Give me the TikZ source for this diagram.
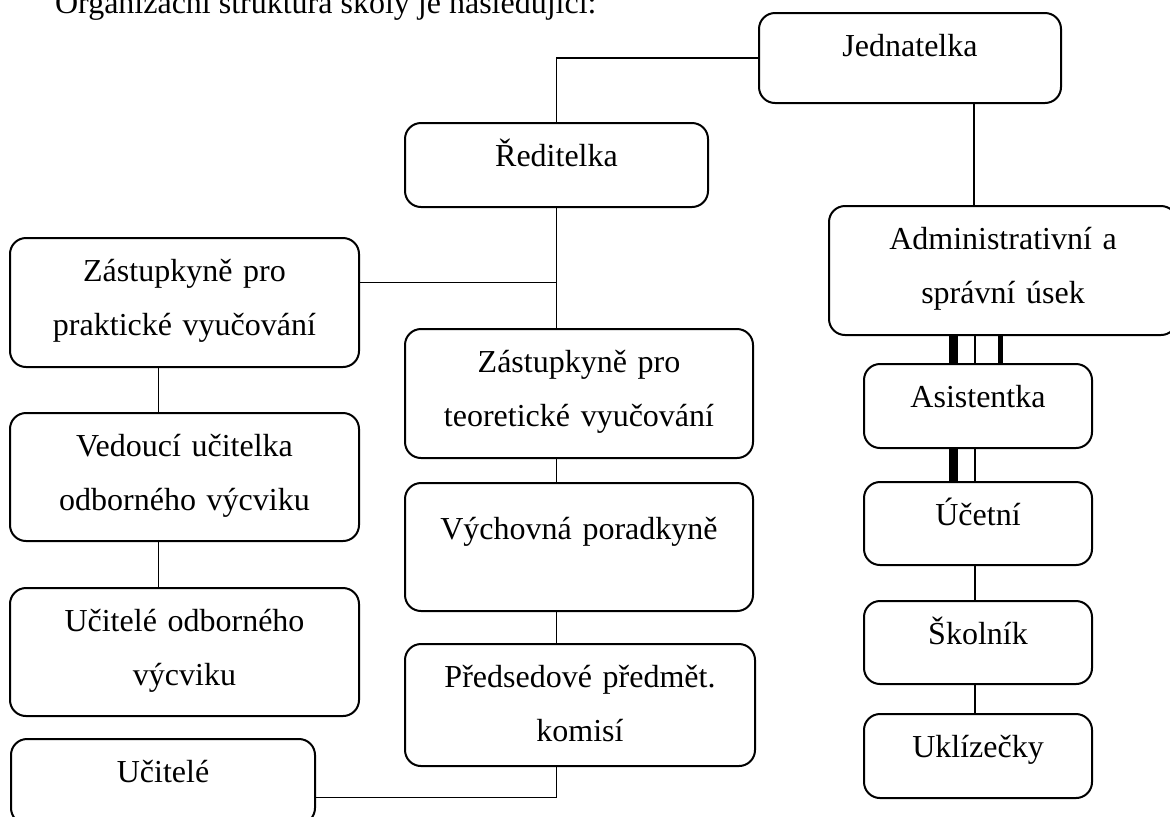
\documentclass[tikz,border=0pt]{standalone}
\usepackage{fontspec}
\setmainfont{Liberation Serif}

\begin{document}
\begin{tikzpicture}
		[x=0.5pt,y=-0.5pt,
		 font=\fontsize{16}{27}\selectfont,
		 b/.style= {draw,line width=1pt,rounded corners=8pt,inner sep=0pt,align=center,anchor=north west,text height=21.5pt},
		 l/.style= {line width=0.9pt}]

		\useasboundingbox (0,0) rectangle (1170,816);

		\node[anchor=base west] (t) at (48,13) {Organizační struktura školy je následující:};

		\node[b,text width=151pt,text depth=23.5pt] (jed) at (758,12) {Jednatelka};
		\node[b,text width=151.5pt,text depth=20.5pt] (red) at (404,122) {Ředitelka};

		\node[b,text width=174.5pt,text depth=43pt] (prak) at (9,237) {Zástupkyně pro\\praktické vyučování};
		\node[b,text width=174.5pt,text depth=42.5pt] (ved) at (9,412) {Vedoucí učitelka\\odborného výcviku};
		\node[b,text width=174.5pt,text depth=42.5pt] (ucod) at (9,587) {Učitelé odborného\\výcviku};
		\node[b,text width=152pt,text depth=21pt] (ucit) at (10,738) {Učitelé};

		\node[b,text width=174pt,text depth=43pt] (teor) at (404,328) {Zástupkyně pro\\teoretické vyučování};
		\node[b,text width=162pt,text height=28pt,text depth=36pt,inner xsep=6pt] (vych) at (404,482) {Výchovná poradkyně};
		\node[b,text width=175pt,text depth=39.5pt] (pred) at (404,643) {Předsedové předmět.\\komisí};

		\node[b,text width=174pt,text depth=43pt] (adm) at (828,205) {Administrativní a\\správní úsek};
		\node[b,text width=114pt,text depth=20.5pt] (asi) at (863,363) {Asistentka};
		\node[b,text width=114pt,text depth=20pt] (uce) at (863,481) {Účetní};
		\node[b,text width=114pt,text depth=20pt] (sko) at (863,600) {Školník};
		\node[b,text width=114pt,text depth=20.5pt] (ukl) at (863,713) {Uklízečky};

		% top
		\draw[l] (jed.west) -| (red.north);
		\draw[l] ([xshift=32pt]jed.south) -- ([xshift=32pt]jed.south |- adm.north);

		% middle
		\draw[l] (red.south) -- (red.south |- teor.north);
		\draw[l] ([yshift=10pt]prak.east) -- ([yshift=10pt]prak.east -| red.south);
		\draw[l] (teor.south -| red.south) -- (vych.north -| red.south);
		\draw[l] (vych.south -| red.south) -- (pred.north -| red.south);
		\draw[l] ([yshift=-8pt]ucit.east) -| (pred.south -| red.south);

		% left
		\draw[l] ([xshift=-13pt]prak.south) -- ([xshift=-13pt]prak.south |- ved.north);
		\draw[l] ([xshift=-13pt]ved.south) -- ([xshift=-13pt]ved.south |- ucod.north);

		% right
		\draw[l] ([xshift=-1.5pt]asi.north) -- ([xshift=-1.5pt]asi.north |- adm.south);
		\draw[line width=4.5pt] ([xshift=-12.25pt]asi.north) -- ([xshift=-12.25pt]asi.north |- adm.south);
		\draw[line width=2.5pt] ([xshift=11.25pt]asi.north) -- ([xshift=11.25pt]asi.north |- adm.south);
		\draw[l] ([xshift=-1.5pt]asi.south) -- ([xshift=-1.5pt]uce.north);
		\draw[line width=4.5pt] ([xshift=-12.25pt]asi.south) -- ([xshift=-12.25pt]uce.north);
		\draw[l] ([xshift=-1.5pt]uce.south) -- ([xshift=-1.5pt]sko.north);
		\draw[l] ([xshift=-1.5pt]sko.south) -- ([xshift=-1.5pt]ukl.north);

\end{tikzpicture}
\end{document}
